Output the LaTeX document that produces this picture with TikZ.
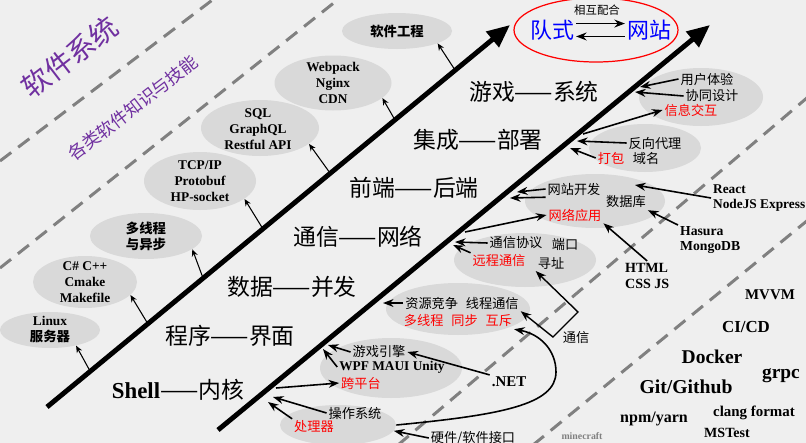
\documentclass[tikz,border=0pt]{standalone}
\usepackage{fontspec}
\setmainfont{Liberation Serif}
\newfontfamily\cjk{Noto Sans CJK SC}
\usetikzlibrary{arrows.meta,shapes.geometric}
\definecolor{paper}{HTML}{EFEFEF}
\definecolor{blobgray}{HTML}{D9D9D9}
\definecolor{guidegray}{HTML}{808080}
\definecolor{titlepurple}{HTML}{7030A0}

\begin{document}
\begin{tikzpicture}[
            x=0.02cm, y=-0.02cm,
            every node/.append style={black, inner sep=1pt},
            blob/.style n args={2}{ellipse, fill=blobgray, inner sep=0pt,
                minimum width=#1*0.02cm, minimum height=#2*0.02cm},
            guide/.style={guidegray, line width=1.7pt, dash pattern=on 8pt off 5pt},
            spine/.style={line width=2.8pt, -{Triangle[length=13pt,width=11pt]}},
            twig/.style={line width=0.6pt, -{Stealth[length=4pt,width=3.4pt]}},
            feed/.style={line width=0.9pt, -{Stealth[length=6pt,width=4.5pt]}},
            topic/.style={font=\cjk\fontsize{13}{15}\selectfont},
            lefttext/.style={font=\bfseries\fontsize{7.6}{9.1}\selectfont, align=center},
            lefthan/.style={font=\cjk\bfseries\fontsize{7.6}{9.1}\selectfont, align=center},
            note/.style={font=\cjk\fontsize{7.5}{9}\selectfont},
            hot/.style={note, red},
            tech/.style 2 args={font=\bfseries\fontsize{#1}{#2}\selectfont}
        ]
    \fill[paper] (0,0) rectangle (806,443);
    \useasboundingbox (0,0) rectangle (806,443);

    \draw[guide] (0,161) -- (215,-2);
    \draw[guide] (0,268) -- (340,-2);
    \draw[guide] (398,445) -- (808,97);
    \draw[guide] (533,445) -- (808,220);

    \node[font=\cjk\fontsize{16}{19}\selectfont, titlepurple, rotate=37.5] (title) at (70,57) {软件系统};
    \node[font=\cjk\fontsize{10}{12}\selectfont, titlepurple, rotate=37.5] (subtitle) at (133,108) {各类软件知识与技能};

    % left side: skills
    \node[blob={100}{36}] (linux) at (50,330) {};
    \node[lefttext] (linuxt) at (linux) {Linux\\{\cjk 服务器}};
    \node[blob={104}{52}] (cpp) at (85,282) {};
    \node[lefttext] (cppt) at (cpp) {C\# C++\\Cmake\\Makefile};
    \node[blob={112}{46}] (async) at (146,236) {};
    \node[lefthan] (asynct) at (async) {多线程\\与异步};
    \node[blob={112}{58}] (tcp) at (200,181) {};
    \node[lefttext] (tcpt) at (tcp) {TCP/IP\\Protobuf\\HP-socket};
    \node[blob={118}{56}] (sql) at (260,128) {};
    \node[lefttext] (sqlt) at (258,129) {SQL\\GraphQL\\Restful API};
    \node[blob={117}{55}] (pack) at (333,83) {};
    \node[lefttext] (packt) at (pack) {Webpack\\Nginx\\CDN};
    \node[blob={110}{36}] (swe) at (397,31) {};
    \node[lefthan] (swet) at (swe) {软件工程};

    \coordinate (k1) at (90,371);
    \coordinate (k2) at (148,324);
    \coordinate (k3) at (203,278);
    \coordinate (k4) at (263,229);
    \coordinate (k5) at (330,173);
    \coordinate (k6) at (395,120);
    \coordinate (k7) at (455,70);
    \draw[twig] (k1) -- (linux.-31);
    \draw[twig] (k2) -- (cpp.-16);
    \draw[twig] (k3) -- (async.-16);
    \draw[twig] (k4) -- (tcp.-22);
    \draw[twig] (k5) -- (sql.-18);
    \draw[twig] (k6) -- (pack.-17);
    \draw[twig] (k7) -- (swe.-17);

    % right side: practice
    \node[blob={124}{58}] (ux) at (701,97) {};
    \node[blob={112}{48}] (proxy) at (645,148) {};
    \node[blob={140}{54}] (web) at (595,201) {};
    \node[blob={142}{54}] (rpc) at (525,260) {};
    \node[blob={144}{52}] (thread) at (458,309) {};
    \node[blob={142}{60}] (engine) at (391,368) {};
    \node[blob={116}{40}] (os) at (338,425) {};

    \coordinate (s1a) at (47,407);
    \coordinate (s1b) at (510,25);
    \coordinate (s2a) at (218,430);
    \coordinate (s2b) at (710,25);
    \draw[spine] (s1a) -- (s1b);
    \draw[spine] (s2a) -- (s2b);

    \node[topic] (t1) at (178,390) {{\rmfamily\bfseries Shell}——内核};
    \node[topic] (t2) at (230,336) {程序——界面};
    \node[topic] (t3) at (292,287) {数据——并发};
    \node[topic] (t4) at (358,237) {通信——网络};
    \node[topic] (t5) at (414,188) {前端——后端};
    \node[topic] (t6) at (478,140) {集成——部署};
    \node[topic] (t7) at (534,92) {游戏——系统};

    \node[ellipse, draw=red, line width=0.7pt, minimum width=164*0.02cm, minimum height=64*0.02cm] (team) at (596,30) {};
    \node[font=\cjk\fontsize{12.5}{14}\selectfont, blue] (dq) at (552,30) {队式};
    \node[font=\cjk\fontsize{12.5}{14}\selectfont, blue] (wz) at (649,30) {网站};
    \node[font=\cjk\fontsize{6.5}{8}\selectfont] (xh) at (597,10) {相互配合};
    \draw[feed] (dq.15) -- (wz.165);
    \draw[feed] (wz.195) -- (dq.-15);

    \node[note] (uxa) at (707,79) {用户体验};
    \node[note] (uxb) at (712,96) {协同设计};
    \node[hot] (uxc) at (691,110) {信息交互};
    \coordinate (r1) at (640,87);
    \coordinate (r2) at (635,92);
    \coordinate (r3) at (583,134);
    \draw[feed] (uxa.west) -- (r1);
    \draw[feed] (uxb.west) -- (r2);
    \draw[feed] (r3) -- (uxc.west);

    \node[note] (pxa) at (655,143) {反向代理};
    \node[hot] (pxb) at (611,158) {打包};
    \node[note] (pxc) at (646,158) {域名};
    \coordinate (r4) at (577,141);
    \coordinate (r5) at (570,148);
    \draw[feed] (pxa.west) -- (r4);
    \draw[feed] (pxb.west) -- (r5);

    \node[note] (wba) at (574,189) {网站开发};
    \node[note] (wbb) at (626,202) {数据库};
    \node[hot] (wbc) at (575,215) {网络应用};
    \coordinate (r6) at (517,192);
    \coordinate (r7) at (510,198);
    \coordinate (r8) at (465,232);
    \draw[feed] (wba.west) -- (r6);
    \draw[feed] (wba.south west) -- (r7);
    \draw[feed] (r8) -- (wbc.west);

    \node[tech={7.6}{9}, align=left, anchor=west] (react) at (711,198) {React\\NodeJS Express};
    \node[tech={7.8}{9}, align=left, anchor=west] (hasura) at (678,240) {Hasura\\MongoDB};
    \node[tech={8}{9.4}, align=left, anchor=west] (html) at (623,276) {HTML\\CSS JS};
    \coordinate (r9) at (635,185);
    \draw[feed] (react.west) -- (r9);
    \draw[feed] (hasura.155) -- (wbb.south east);
    \draw[feed] (html.north) -- (wbc.south east);

    \node[note] (rpa) at (516,243) {通信协议};
    \node[note] (rpb) at (565,245) {端口};
    \node[hot] (rpr) at (499,261) {远程通信};
    \node[note] (rpd) at (551,263) {寻址};
    \coordinate (r10) at (455,242);
    \coordinate (r11) at (453,245);
    \draw[feed] (rpa.west) -- (r10);
    \draw[feed] (rpr.north west) -- (r11);

    \node[note] (tha) at (462,303) {资源竞争\hspace{0.6em}线程通信};
    \node[hot] (thb) at (458,321) {多线程\hspace{0.6em}同步\hspace{0.6em}互斥};
    \coordinate (r12) at (383,303);
    \draw[feed] (tha.west) -- (r12);

    \coordinate (c1) at (578,312);
    \coordinate (c2) at (553,337);
    \draw[line width=0.8pt, {Stealth[length=6pt,width=4.5pt]}-{Stealth[length=6pt,width=4.5pt]}]
        (rpd.south west) -- (c1) -- (c2) -- (tha.south east);
    \node[note] (link) at (576,338) {通信};

    \node[note] (ena) at (379,352) {游戏引擎};
    \node[tech={7.6}{9}] (enb) at (392,367) {WPF MAUI Unity};
    \node[hot] (enc) at (361,383) {跨平台};
    \coordinate (r13) at (328,345);
    \coordinate (r14) at (323,349);
    \coordinate (r15) at (276,388);
    \draw[feed] (ena.west) -- (r13);
    \draw[feed] (enb.west) -- (r14);
    \draw[feed] (r15) -- (enc.west);
    \node[tech={8.5}{10}] (dotnet) at (509,382) {.NET};
    \draw[feed] (dotnet.north west) -- (ena.east);

    \node[note] (osa) at (355,413) {操作系统};
    \node[hot] (osb) at (314,427) {处理器};
    \coordinate (r16) at (273,397);
    \coordinate (r17) at (268,402);
    \draw[feed] (osa.west) -- (r16);
    \draw[feed] (osb.north west) -- (r17);
    \draw[feed] (os.east) .. controls (500,415) and (556,405) .. (556,372)
        .. controls (556,350) and (540,334) .. (thb.south east);
    \node[note] (hw) at (473,438) {硬件/软件接口};
    \draw[feed] (hw.west) -- (os.-6);

    % tools
    \node[tech={8.5}{10}] (mvvm) at (770,295) {MVVM};
    \node[tech={9.6}{11}] (cicd) at (746,327) {CI/CD};
    \node[tech={11.1}{13}] (docker) at (712,357) {Docker};
    \node[tech={11}{13}] (grpc) at (781,376) {grpc};
    \node[tech={11.2}{13}] (git) at (686,387) {Git/Github};
    \node[tech={9.1}{11}] (npm) at (654,419) {npm/yarn};
    \node[tech={8.5}{10}] (clang) at (754,413) {clang format};
    \node[tech={8}{10}] (mstest) at (727,433) {MSTest};
    \node[tech={5.6}{7}, guidegray] (mc) at (582,436) {minecraft};
\end{tikzpicture}
\end{document}
